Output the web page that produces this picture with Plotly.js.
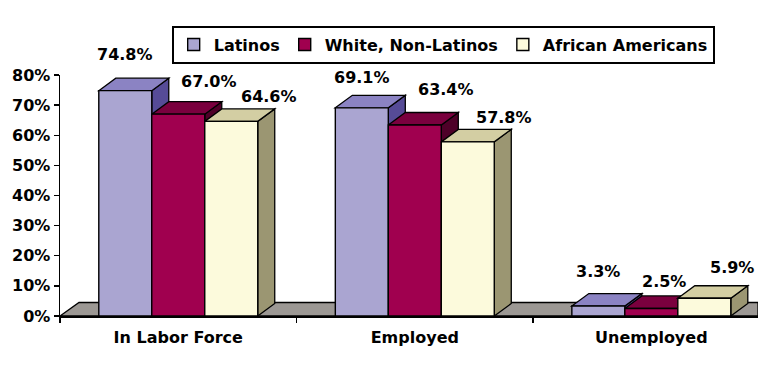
<!DOCTYPE html>
<html>
<head>
<meta charset="utf-8">
<script src="https://cdn.plot.ly/plotly-3.0.1.min.js"></script>
<style>html,body{margin:0;padding:0;background:#fff;}#chart{width:774px;height:373px;}</style>
</head>
<body>
<div id="chart"></div>
<script>
// ---- data ----
const categories = ['In Labor Force', 'Employed', 'Unemployed'];
const seriesNames = ['Latinos', 'White, Non-Latinos', 'African Americans'];
const latinos = [74.8, 69.1, 3.3];
const whiteNonLatinos = [67.0, 63.4, 2.5];
const africanAmericans = [64.6, 57.8, 5.9];
const yTickVals = [0, 10, 20, 30, 40, 50, 60, 70, 80];

// ---- style ----
const seriesValues = [latinos, whiteNonLatinos, africanAmericans];
const frontColors = ['#aaa5d1', '#a0004f', '#fcfadc'];
const topColors = ['#8b83c3', '#7a003e', '#d3cea3'];
const sideColors = ['#564b97', '#4e0028', '#9b9672'];
const floorColor = '#9c9894';
const barWidth = 0.224;
const barOffsets = [-0.336, -0.112, 0.112];
const xRange = [-0.5, 2.451];
const yRange = [0, 80];
const plotW = 774 - 60 - 16, plotH = 373 - 75 - 57;
const pxX = (xRange[1] - xRange[0]) / plotW;
const pxY = (yRange[1] - yRange[0]) / plotH;
const depthX = 17 * pxX, depthY = 12.5 * pxY;
const floorDX = 19 * pxX, floorDY = 13.5 * pxY;
// label pixel shifts per series / category (placement only)
const labelShiftX = [[0, 0, 0], [31, 31, 13], [38, 36, 28]];
const labelShiftY = [[36, 30, 35], [33, 36, 27], [25, 24, 31]];

const FONT = {family: 'DejaVu Sans', size: 16, color: '#000', weight: 'bold'};
const OUT = {color: '#000', width: 1.3};

const traces = seriesNames.map((name, s) => ({
  type: 'bar',
  name: name,
  x: categories,
  y: seriesValues[s],
  width: barWidth,
  offset: barOffsets[s],
  marker: {color: frontColors[s], line: {color: '#000', width: 1.4}},
  hoverinfo: 'skip'
}));

const shapes = [];
// floor
shapes.push({
  type: 'path', xref: 'x', yref: 'y', layer: 'below',
  path: `M${xRange[0]},0 L${xRange[1]},0 L${xRange[1]},${floorDY} L${xRange[0] + floorDX},${floorDY} Z`,
  fillcolor: floorColor, line: OUT
});
const annotations = [];
categories.forEach((cat, c) => {
  seriesNames.forEach((name, s) => {
    const h = seriesValues[s][c];
    const x0 = c + barOffsets[s], x1 = x0 + barWidth;
    shapes.push({
      type: 'path', xref: 'x', yref: 'y', layer: 'below',
      path: `M${x1},0 L${x1 + depthX},${depthY} L${x1 + depthX},${h + depthY} L${x1},${h} Z`,
      fillcolor: sideColors[s], line: OUT
    });
    shapes.push({
      type: 'path', xref: 'x', yref: 'y', layer: 'below',
      path: `M${x0},${h} L${x0 + depthX},${h + depthY} L${x1 + depthX},${h + depthY} L${x1},${h} Z`,
      fillcolor: topColors[s], line: OUT
    });
    annotations.push({
      xref: 'x', yref: 'y', x: c + barOffsets[s] + barWidth / 2, y: h,
      xshift: labelShiftX[s][c], yshift: labelShiftY[s][c],
      text: h.toFixed(1) + '%', showarrow: false,
      xanchor: 'center', yanchor: 'middle', font: FONT
    });
  });
});

const layout = {
  width: 774, height: 373,
  margin: {l: 60, r: 16, t: 75, b: 57, pad: 0},
  paper_bgcolor: '#fff', plot_bgcolor: '#fff',
  font: FONT,
  barmode: 'overlay',
  showlegend: true,
  legend: {
    orientation: 'h', x: 0.16, xanchor: 'left', y: 1.205, yanchor: 'top',
    bordercolor: '#000', borderwidth: 2, bgcolor: '#fff',
    font: {family: 'DejaVu Sans', size: 16, color: '#000', weight: 'bold'},
    traceorder: 'normal'
  },
  xaxis: {
    type: 'category', range: xRange, autorange: false,
    tickson: 'boundaries', ticks: 'outside', ticklen: 5, tickcolor: '#000', tickwidth: 1.3,
    showline: true, linecolor: '#000', linewidth: 1.5,
    showgrid: false, zeroline: false, fixedrange: true,
    ticklabelstandoff: 6,
    tickfont: FONT
  },
  yaxis: {
    range: yRange, autorange: false,
    tickmode: 'array', tickvals: yTickVals, ticktext: yTickVals.map(v => v + '%'),
    ticks: 'outside', ticklen: 5, tickcolor: '#000', tickwidth: 1.3,
    showline: true, linecolor: '#000', linewidth: 1.5,
    showgrid: false, zeroline: false, fixedrange: true,
    tickfont: FONT
  },
  shapes: shapes,
  annotations: annotations
};

Plotly.newPlot('chart', traces, layout, {staticPlot: true, displayModeBar: false});
</script>
</body>
</html>
